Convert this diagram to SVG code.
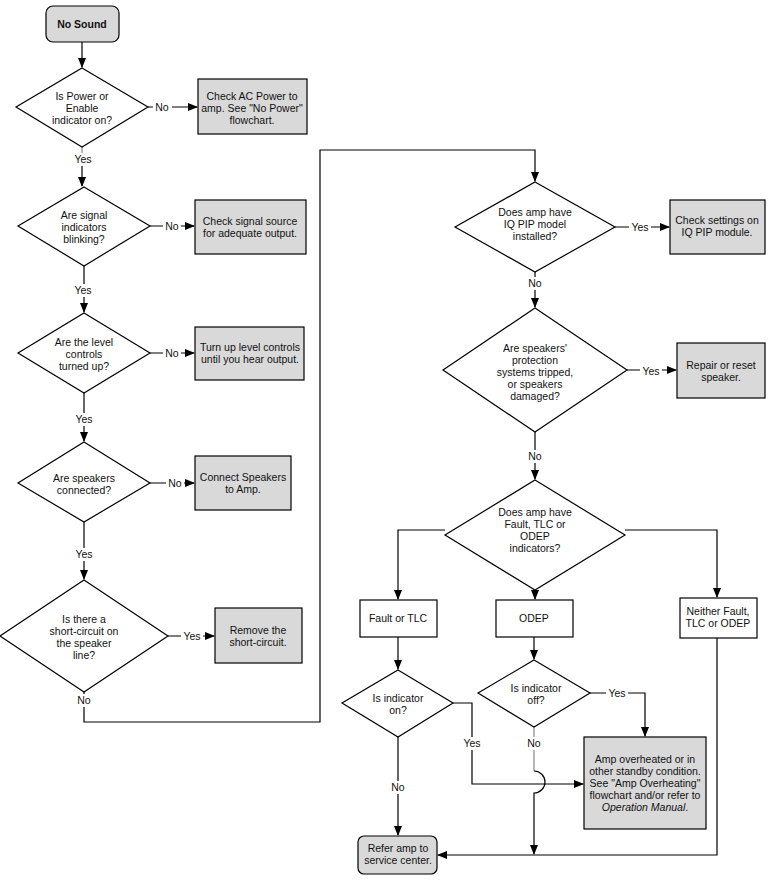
<svg xmlns="http://www.w3.org/2000/svg" width="770" height="884" viewBox="0 0 770 884">
<defs>
<marker id="a" markerWidth="10" markerHeight="10" refX="9" refY="5" orient="auto" markerUnits="userSpaceOnUse"><path d="M0,1 L10,5 L0,9 Z" fill="#000"/></marker>
<style>
.d{fill:#fff;stroke:#000;stroke-width:1.2}
.b{fill:#d9d9d9;stroke:#000;stroke-width:1.2}
.w{fill:#fff;stroke:#000;stroke-width:1.2}
text{font-family:"Liberation Sans",Arial,sans-serif;font-size:10.5px;text-anchor:middle;fill:#111}
.c{fill:none;stroke:#000;stroke-width:1.2}
.g{fill:none;stroke:#888;stroke-width:1.2}
.l{fill:#fff}
</style>
</defs>
<rect width="770" height="884" fill="#fff"/>
<g id="connectors">
<path class="c" d="M82,42 V67" marker-end="url(#a)"/>
<path class="c" d="M148,107 H197" marker-end="url(#a)"/>
<path class="g" d="M82,147 V165"/><path class="c" d="M82,165 V186" marker-end="url(#a)"/>
<path class="c" d="M150,226 H194" marker-end="url(#a)"/>
<path class="c" d="M84,266 V312" marker-end="url(#a)"/>
<path class="c" d="M150,353 H194" marker-end="url(#a)"/>
<path class="c" d="M84,393 V441" marker-end="url(#a)"/>
<path class="c" d="M150,483 H194" marker-end="url(#a)"/>
<path class="c" d="M84,522 V579" marker-end="url(#a)"/>
<path class="c" d="M168,636 H214" marker-end="url(#a)"/>
<path class="c" d="M84,692 V722 H320 V150 H535 V181" marker-end="url(#a)"/>
<path class="c" d="M615,227 H669" marker-end="url(#a)"/>
<path class="c" d="M535,272 V307" marker-end="url(#a)"/>
<path class="c" d="M627,370 H676" marker-end="url(#a)"/>
<path class="c" d="M535,432 V479" marker-end="url(#a)"/>
<path class="c" d="M445,530 H398 V599" marker-end="url(#a)"/>
<path class="c" d="M535,590 V599" marker-end="url(#a)"/>
<path class="c" d="M625,530 H717 V597" marker-end="url(#a)"/>
<path class="c" d="M398,637 V669" marker-end="url(#a)"/>
<path class="c" d="M534,637 V659" marker-end="url(#a)"/>
<path class="c" d="M590,693 H645 V736" marker-end="url(#a)"/>
<path class="c" d="M453,703 H472 V784 H583" marker-end="url(#a)"/>
<path class="g" d="M534,727 V771"/>
<path class="c" d="M534,771 A11,11 0 0 1 534,793 V854" marker-end="url(#a)"/>
<path class="c" d="M398,737 V835" marker-end="url(#a)"/>
<path class="c" d="M717,638 V855 H438" marker-end="url(#a)"/>
</g>
<g id="labels">
<rect class="l" x="153" y="101" width="19" height="13"/><text x="162" y="111">No</text>
<rect class="l" x="72" y="153" width="22" height="13"/><text x="83" y="163">Yes</text>
<rect class="l" x="163" y="220" width="18" height="13"/><text x="172" y="230">No</text>
<rect class="l" x="72" y="284" width="22" height="13"/><text x="83" y="294">Yes</text>
<rect class="l" x="163" y="347" width="18" height="13"/><text x="172" y="357">No</text>
<rect class="l" x="73" y="413" width="22" height="13"/><text x="84" y="423">Yes</text>
<rect class="l" x="166" y="477" width="18" height="13"/><text x="175" y="487">No</text>
<rect class="l" x="73" y="548" width="22" height="13"/><text x="84" y="558">Yes</text>
<rect class="l" x="181" y="630" width="22" height="13"/><text x="192" y="640">Yes</text>
<rect class="l" x="75" y="694" width="18" height="13"/><text x="84" y="704">No</text>
<rect class="l" x="629" y="220" width="22" height="13"/><text x="640" y="231">Yes</text>
<rect class="l" x="526" y="277" width="18" height="13"/><text x="535" y="287">No</text>
<rect class="l" x="640" y="365" width="22" height="13"/><text x="651" y="375">Yes</text>
<rect class="l" x="526" y="450" width="18" height="13"/><text x="535" y="460">No</text>
<rect class="l" x="606" y="687" width="22" height="13"/><text x="617" y="697">Yes</text>
<rect class="l" x="461" y="737" width="22" height="13"/><text x="472" y="747">Yes</text>
<rect class="l" x="525" y="737" width="18" height="13"/><text x="534" y="747">No</text>
<rect class="l" x="389" y="781" width="18" height="13"/><text x="398" y="791">No</text>
</g>
<g id="start"><rect class="b" x="46" y="6" width="73" height="36" rx="7"/><text x="82" y="28" font-weight="bold">No Sound</text></g>
<g id="q1"><polygon class="d" points="82,68 148,107 82,147 16,107"/><text x="82" y="100">Is Power or</text><text x="82" y="112">Enable</text><text x="82" y="124">indicator on?</text></g>
<g id="r1"><rect class="b" x="198" y="79" width="109" height="55"/><text x="252" y="100">Check AC Power to</text><text x="252" y="112">amp. See "No Power"</text><text x="252" y="124">flowchart.</text></g>
<g id="q2"><polygon class="d" points="84,187 150,226 84,266 18,226"/><text x="84" y="219">Are signal</text><text x="84" y="231">indicators</text><text x="84" y="243">blinking?</text></g>
<g id="r2"><rect class="b" x="195" y="200" width="111" height="54"/><text x="250" y="225">Check signal source</text><text x="250" y="237">for adequate output.</text></g>
<g id="q3"><polygon class="d" points="84,313 150,353 84,393 18,353"/><text x="84" y="346">Are the level</text><text x="84" y="358">controls</text><text x="84" y="370">turned up?</text></g>
<g id="r3"><rect class="b" x="195" y="327" width="109" height="53"/><text x="250" y="351">Turn up level controls</text><text x="250" y="363">until you hear output.</text></g>
<g id="q4"><polygon class="d" points="84,442 150,483 84,522 18,483"/><text x="84" y="482">Are speakers</text><text x="84" y="494">connected?</text></g>
<g id="r4"><rect class="b" x="195" y="456" width="96" height="54"/><text x="243" y="481">Connect Speakers</text><text x="243" y="493">to Amp.</text></g>
<g id="q5"><polygon class="d" points="84,580 168,636 84,692 0,636"/><text x="84" y="623">Is there a</text><text x="84" y="635">short-circuit on</text><text x="84" y="647">the speaker</text><text x="84" y="659">line?</text></g>
<g id="r5"><rect class="b" x="215" y="608" width="87" height="55"/><text x="258" y="634">Remove the</text><text x="258" y="646">short-circuit.</text></g>
<g id="q6"><polygon class="d" points="535,182 615,227 535,272 455,227"/><text x="535" y="216">Does amp have</text><text x="535" y="228">IQ PIP model</text><text x="535" y="240">installed?</text></g>
<g id="r6"><rect class="b" x="670" y="200" width="95" height="54"/><text x="717" y="224">Check settings on</text><text x="717" y="236">IQ PIP module.</text></g>
<g id="q7"><polygon class="d" points="535,308 627,370 535,432 443,370"/><text x="535" y="352">Are speakers'</text><text x="535" y="364">protection</text><text x="535" y="376">systems tripped,</text><text x="535" y="388">or speakers</text><text x="535" y="400">damaged?</text></g>
<g id="r7"><rect class="b" x="677" y="343" width="88" height="55"/><text x="721" y="369">Repair or reset</text><text x="721" y="381">speaker.</text></g>
<g id="q8"><polygon class="d" points="535,480 625,535 535,590 445,535"/><text x="535" y="516">Does amp have</text><text x="535" y="528">Fault, TLC or</text><text x="535" y="540">ODEP</text><text x="535" y="552">indicators?</text></g>
<g id="f1"><rect class="w" x="360" y="600" width="77" height="37"/><text x="398" y="622">Fault or TLC</text></g>
<g id="f2"><rect class="w" x="496" y="600" width="77" height="37"/><text x="534" y="622">ODEP</text></g>
<g id="f3"><rect class="w" x="680" y="598" width="77" height="40"/><text x="718" y="615">Neither Fault,</text><text x="718" y="627">TLC or ODEP</text></g>
<g id="q9"><polygon class="d" points="398,670 453,703 398,737 342,703"/><text x="398" y="702">Is indicator</text><text x="398" y="714">on?</text></g>
<g id="q10"><polygon class="d" points="534,660 590,693 534,727 478,693"/><text x="536" y="692">Is indicator</text><text x="536" y="704">off?</text></g>
<g id="r8"><rect class="b" x="584" y="737" width="122" height="92"/><text x="645" y="763">Amp overheated or in</text><text x="645" y="775">other standby condition.</text><text x="645" y="787">See "Amp Overheating"</text><text x="645" y="799">flowchart and/or refer to</text><text x="645" y="811"><tspan font-style="italic">Operation Manual</tspan>.</text></g>
<g id="end"><rect class="b" x="358" y="836" width="79" height="38" rx="6"/><text x="398" y="852">Refer amp to</text><text x="398" y="864">service center.</text></g>
</svg>
